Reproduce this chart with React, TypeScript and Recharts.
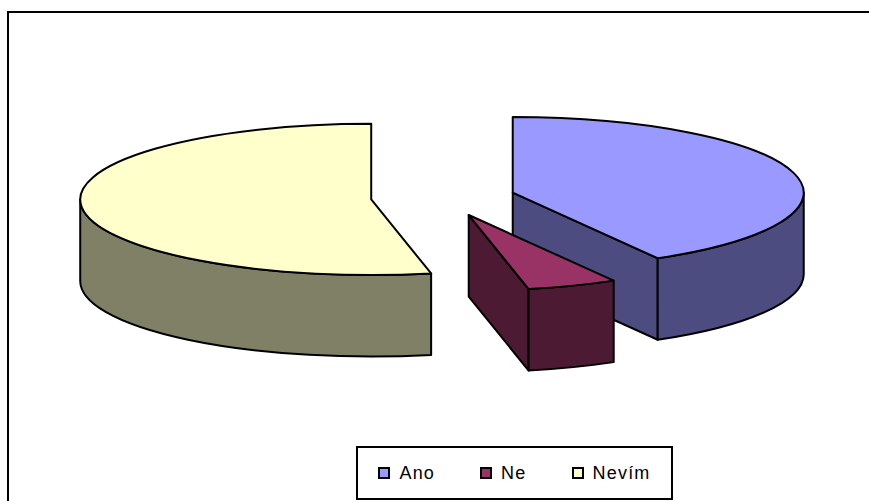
import React from 'react';
import { PieChart, Pie, Cell, Legend } from 'recharts';

// Survey answers and their shares (percent)
const categories = ['Ano', 'Ne', 'Nevím'];
const shares = [41.7, 5, 53.3];

// Top face colours and the darker shade used for the extruded sides
const topColors = ['#9999FF', '#993366', '#FFFFCC'];
const sideColors = ['#4C4C80', '#4C1A33', '#808066'];

const data = categories.map((name, i) => ({ name, value: shares[i] }));

const TILT = 0.26; // vertical squash of the elliptical top
const DEPTH = 0.28; // slice thickness relative to radius
const EXPLODE = 0.248; // distance each slice is pulled out, relative to radius
const RAD = Math.PI / 180;
const EPS = 1e-6;

const STROKE = '#000';
const STROKE_W = 2;

// Draws one slice as an extruded, exploded 3D wedge using the angles Recharts computed.
function Slice3D(props: any) {
  const { cx, cy, outerRadius, startAngle, endAngle, midAngle, index } = props;
  const a = outerRadius;
  const b = outerRadius * TILT;
  const h = outerRadius * DEPTH;
  const ox = cx + EXPLODE * a * Math.cos(midAngle * RAD);
  const oy = cy - EXPLODE * b * Math.sin(midAngle * RAD);
  const pt = (deg: number): [number, number] => [
    ox + a * Math.cos(deg * RAD),
    oy - b * Math.sin(deg * RAD),
  ];
  const hi = Math.max(startAngle, endAngle);
  const lo = Math.min(startAngle, endAngle);
  const top = topColors[index];
  const side = sideColors[index];

  const faces: React.ReactNode[] = [];

  // cut faces along the two radii, only when they turn towards the viewer
  const radialFace = (deg: number, key: string) => {
    const [px, py] = pt(deg);
    const d = `M${ox},${oy} L${px},${py} L${px},${py + h} L${ox},${oy + h} Z`;
    faces.push(
      <path key={key} d={d} fill={side} stroke={STROKE} strokeWidth={STROKE_W} strokeLinejoin="round" />
    );
  };
  if (Math.cos(hi * RAD) < -EPS) radialFace(hi, 'start');
  if (Math.cos(lo * RAD) > EPS) radialFace(lo, 'end');

  // curved outer wall on the front half of the ellipse
  const kMin = Math.floor(lo / 360) - 1;
  const kMax = Math.ceil(hi / 360) + 1;
  for (let k = kMin; k <= kMax; k++) {
    const fLo = -180 + 360 * k;
    const fHi = 360 * k;
    const s1 = Math.min(hi, fHi);
    const s2 = Math.max(lo, fLo);
    if (s1 - s2 <= EPS) continue;
    const [x1, y1] = pt(s1);
    const [x2, y2] = pt(s2);
    const large = s1 - s2 > 180 ? 1 : 0;
    const d =
      `M${x1},${y1} A${a},${b} 0 ${large} 1 ${x2},${y2} ` +
      `L${x2},${y2 + h} A${a},${b} 0 ${large} 0 ${x1},${y1 + h} Z`;
    faces.push(
      <path key={`wall${k}`} d={d} fill={side} stroke={STROKE} strokeWidth={STROKE_W} strokeLinejoin="round" />
    );
  }

  // elliptical top face
  const [sx, sy] = pt(hi);
  const [ex, ey] = pt(lo);
  const largeTop = hi - lo > 180 ? 1 : 0;
  const topPath = `M${ox},${oy} L${sx},${sy} A${a},${b} 0 ${largeTop} 1 ${ex},${ey} Z`;

  return (
    <g key={`slice-${index}`}>
      {faces}
      <path d={topPath} fill={top} stroke={STROKE} strokeWidth={STROKE_W} strokeLinejoin="round" />
    </g>
  );
}

const FONT = '"Liberation Sans", Arial, sans-serif';

function LegendBox(props: any) {
  const payload = props.payload || [];
  return (
    <div
      style={{
        boxSizing: 'border-box',
        width: '100%',
        height: '100%',
        border: '2px solid #000',
        background: '#fff',
        display: 'flex',
        alignItems: 'center',
        justifyContent: 'center',
        gap: 45,
        fontFamily: FONT,
        fontSize: 18,
        letterSpacing: 1.2,
        color: '#000',
      }}
    >
      {payload.map((entry: any, i: number) => (
        <div key={entry.value} style={{ display: 'flex', alignItems: 'center' }}>
          <span
            style={{
              display: 'inline-block',
              boxSizing: 'border-box',
              width: 12,
              height: 12,
              background: topColors[i],
              border: '2px solid #000',
              marginRight: 9,
            }}
          />
          <span>{entry.value}</span>
        </div>
      ))}
    </div>
  );
}

export default function App() {
  return (
    <div
      style={{
        position: 'absolute',
        left: 0,
        top: 0,
        width: 869,
        height: 501,
        overflow: 'hidden',
        background: '#fff',
      }}
    >
      <div
        style={{
          position: 'absolute',
          left: 7,
          top: 11,
          width: 900,
          height: 600,
          border: '2px solid #000',
        }}
      />
      <div style={{ position: 'absolute', left: 0, top: 0 }}>
        <PieChart width={869} height={501} margin={{ top: 0, right: 0, bottom: 0, left: 0 }}>
          <Pie
            data={data}
            dataKey="value"
            nameKey="name"
            cx={443}
            cy={197.5}
            outerRadius={291}
            startAngle={90}
            endAngle={-270}
            stroke="none"
            isAnimationActive={false}
            labelLine={false}
            label={Slice3D}
          >
            {data.map((d, i) => (
              <Cell key={d.name} fill={topColors[i]} fillOpacity={0} stroke="none" />
            ))}
          </Pie>
          <Legend
            content={LegendBox}
            wrapperStyle={{ left: 356, top: 446, width: 317, height: 54, bottom: 'auto' }}
          />
        </PieChart>
      </div>
    </div>
  );
}
